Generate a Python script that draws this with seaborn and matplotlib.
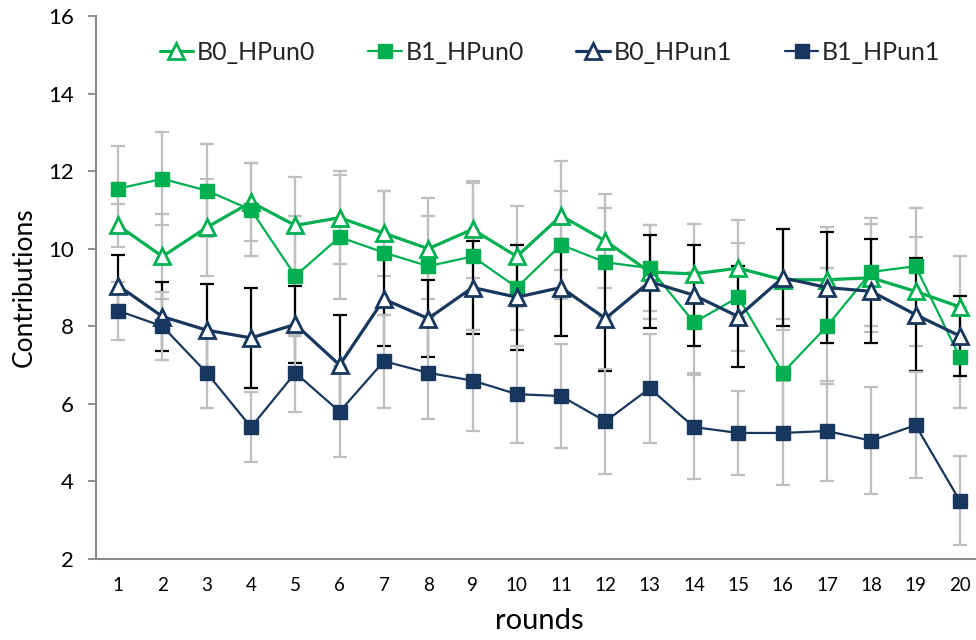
import matplotlib
matplotlib.use("Agg")
import matplotlib.pyplot as plt
import seaborn as sns
import pandas as pd
import numpy as np

rounds = list(range(1, 21))
series_names = ["B0_HPun0", "B1_HPun0", "B0_HPun1", "B1_HPun1"]

b0_hpun0 = [10.6, 9.8, 10.55, 11.2, 10.6, 10.8, 10.4, 10.0, 10.5, 9.8,
            10.85, 10.2, 9.4, 9.35, 9.5, 9.2, 9.2, 9.25, 8.9, 8.5]
b1_hpun0 = [11.55, 11.8, 11.5, 11.0, 9.3, 10.3, 9.9, 9.55, 9.8, 9.0,
            10.1, 9.65, 9.5, 8.1, 8.75, 6.8, 8.0, 9.4, 9.55, 7.2]
b0_hpun1 = [9.05, 8.25, 7.9, 7.7, 8.05, 7.0, 8.7, 8.2, 9.0, 8.75,
            9.0, 8.2, 9.15, 8.8, 8.25, 9.25, 9.0, 8.9, 8.3, 7.75]
b1_hpun1 = [8.4, 8.0, 6.8, 5.4, 6.8, 5.8, 7.1, 6.8, 6.6, 6.25,
            6.2, 5.55, 6.4, 5.4, 5.25, 5.25, 5.3, 5.05, 5.45, 3.5]

err_b0_hpun0 = [0.55, 1.1, 1.25, 1.0, 1.26, 1.2, 1.1, 1.3, 1.25, 1.3,
                1.4, 1.2, 1.2, 1.3, 1.25, 1.3, 1.35, 1.4, 1.4, 1.3]
err_b1_hpun0 = [1.1, 1.2, 1.2, 1.2, 1.55, 1.6, 1.6, 1.3, 1.9, 1.1,
                1.4, 1.4, 1.1, 1.3, 1.4, 1.4, 1.5, 1.4, 1.5, 1.3]
err_b0_hpun1 = [0.8, 0.9, 1.18, 1.3, 1.0, 1.3, 1.2, 1.0, 1.2, 1.35,
                1.24, 1.34, 1.2, 1.3, 1.3, 1.25, 1.42, 1.34, 1.45, 1.02]
err_b1_hpun1 = [0.75, 0.88, 0.9, 0.9, 1.0, 1.18, 1.2, 1.2, 1.3, 1.25,
                1.34, 1.35, 1.4, 1.35, 1.08, 1.35, 1.3, 1.38, 1.37, 1.15]

values = [b0_hpun0, b1_hpun0, b0_hpun1, b1_hpun1]
errors = [err_b0_hpun0, err_b1_hpun0, err_b0_hpun1, err_b1_hpun1]

GREEN = "#00B050"
NAVY = "#17375E"
styles = [
    dict(color=GREEN, marker="^", mfc="white", lw=2.3, ms=11, mew=2.0, ecol="#BFBFBF"),
    dict(color=GREEN, marker="s", mfc=GREEN, lw=1.6, ms=10, mew=1.0, ecol="#BFBFBF"),
    dict(color=NAVY, marker="^", mfc="white", lw=2.3, ms=11, mew=2.0, ecol="#000000"),
    dict(color=NAVY, marker="s", mfc=NAVY, lw=1.6, ms=10, mew=1.0, ecol="#BFBFBF"),
]

sns.set_theme(style="white")
plt.rcParams["font.family"] = ["Lato", "DejaVu Sans"]

fig = plt.figure(figsize=(9.76, 6.4), dpi=100)
ax = fig.add_axes([96 / 976, 1 - 559 / 640, (982 - 96) / 976, (559 - 16) / 640])

# error bars first (behind lines)
for name, v, e, st in zip(series_names, values, errors, styles):
    ax.errorbar(rounds, v, yerr=e, fmt="none", ecolor=st["ecol"], elinewidth=1.6,
                capsize=5, capthick=1.6, zorder=1)

for name, v, st in zip(series_names, values, styles):
    df = pd.DataFrame({"rounds": rounds, "Contributions": v})
    sns.lineplot(data=df, x="rounds", y="Contributions", ax=ax, color=st["color"],
                 lw=st["lw"], marker=st["marker"], markersize=st["ms"],
                 markerfacecolor=st["mfc"], markeredgecolor=st["color"],
                 markeredgewidth=st["mew"], label=name, zorder=3)

ax.set_xlim(0.5, 20.5)
ax.set_ylim(2, 16)
ax.set_yticks(range(2, 17, 2))
ax.set_xticks(rounds)
ax.set_xticks(np.arange(0.5, 21, 1), minor=True)
ax.tick_params(axis="x", which="major", length=0, labelsize=13.5, pad=13, colors="black")
ax.tick_params(axis="x", which="minor", length=5, width=1.3, color="#898989", direction="out")
ax.tick_params(axis="y", which="major", length=6, width=1.3, color="#898989",
               labelsize=16, pad=10, direction="out", left=True)
for lab in ax.get_yticklabels() + ax.get_xticklabels():
    lab.set_color("black")

for s in ["top", "right"]:
    ax.spines[s].set_visible(False)
for s in ["left", "bottom"]:
    ax.spines[s].set_color("#898989")
    ax.spines[s].set_linewidth(1.5)

ax.set_xlabel("rounds", fontsize=21, labelpad=10, color="black")
ax.set_ylabel("Contributions", fontsize=19, labelpad=8, color="black")
ax.grid(False)

leg = ax.legend(ncol=4, loc="center", bbox_to_anchor=(550 / 976, 1 - 52 / 640),
                bbox_transform=fig.transFigure, frameon=False, fontsize=18,
                handlelength=1.35, handletextpad=0.15, columnspacing=2.1,
                borderpad=0.2)

fig.savefig("out.png", dpi=100)
